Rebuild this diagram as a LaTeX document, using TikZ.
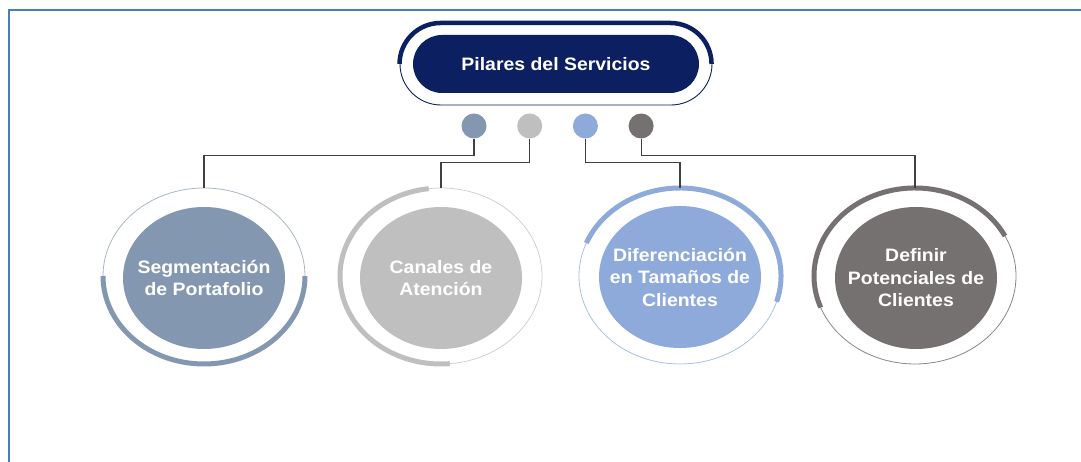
\documentclass[tikz,border=0pt]{standalone}
\usepackage{fontspec}
\setmainfont{Liberation Sans}[FakeStretch=1.08]
\usetikzlibrary{positioning, shapes.geometric}
\definecolor{marco}{HTML}{4A7EBB}
\definecolor{marino}{HTML}{0B1F61}
\definecolor{segcol}{HTML}{8497B0}
\definecolor{cancol}{HTML}{BFBFBF}
\definecolor{difcol}{HTML}{8EAADB}
\definecolor{defcol}{HTML}{767171}

\begin{document}
\begin{tikzpicture}[x=1pt,y=1pt,node distance=55.7pt,on grid,
      every node/.style={font=\bfseries\fontsize{18}{22.5}\selectfont, text=white, align=center},
      knob/.style={circle, minimum size=25pt, inner sep=0pt},
      pilar/.style={ellipse, minimum width=162pt, minimum height=142pt, inner sep=0pt},
      aro/.style={ellipse, draw, line width=0.8pt, minimum width=202pt, minimum height=176pt, inner sep=0pt},
      banda/.style={line width=5pt},
      link/.style={draw=black!75, line width=1.1pt}]
      \useasboundingbox (0,0) rectangle (1081,462);
      \draw[marco, line width=2.5pt] (9,0) -- (9,452) -- (1081,452);

      \node[draw=marino, line width=0.9pt, rounded corners=41pt, minimum width=312pt, minimum height=82pt] (cinta) at (556,398) {};
      \node[fill=marino, rounded corners=29pt, minimum width=286pt, minimum height=58pt] (pilares) at (556,398) {Pilares del Servicios};
      \draw[marino, line width=4.5pt] (cinta.west) arc (180:90:41) -- ++(230,0) arc (90:0:41);

      \node[knob, fill=segcol] (k1) at (474,336) {};
      \node[knob, fill=cancol] (k2) [right=of k1] {};
      \node[knob, fill=difcol] (k3) [right=of k2] {};
      \node[knob, fill=defcol] (k4) [right=of k3] {};

      \node[aro, draw=segcol!70] (segaro) at (204,186) {};
      \node[aro, draw=cancol!75] (canaro) at (441,186) {};
      \node[aro, draw=difcol!75] (difaro) at (680,186) {};
      \node[aro, draw=defcol!85] (defaro) at (915,186) {};

      \node[pilar, fill=segcol, label={center:Segmentación\\de Portafolio}] (seg) at (204,184) {};
      \node[pilar, fill=cancol, label={center:Canales de\\Atención}] (can) at (441,184) {};
      \node[pilar, fill=difcol, label={center:Diferenciación\\en Tamaños de\\Clientes}] (dif) at (680,185) {};
      \node[pilar, fill=defcol, label={center:Definir\\Potenciales de\\Clientes}] (def) at (916,184) {};

      \draw[banda, segcol] (segaro.center) ++(180:101 and 88) arc[start angle=180, end angle=360, x radius=101, y radius=88];
      \draw[banda, cancol] (canaro.center) ++(97:101 and 88) arc[start angle=97, end angle=275, x radius=101, y radius=88];
      \draw[banda, difcol] (difaro.center) ++(-17:101 and 88) arc[start angle=-17, end angle=158, x radius=101, y radius=88];
      \draw[banda, defcol] (defaro.center) ++(27:101 and 88) arc[start angle=27, end angle=201, x radius=101, y radius=88];

      \path[link] (k1.south) -- ++(0,-17) -| (segaro.north);
      \path[link] (k2.south) -- ++(0,-24) -| (canaro.north);
      \path[link] (k3.south) -- ++(0,-24) -| (difaro.north);
      \path[link] (k4.south) -- ++(0,-17) -| (defaro.north);
    \end{tikzpicture}
\end{document}
